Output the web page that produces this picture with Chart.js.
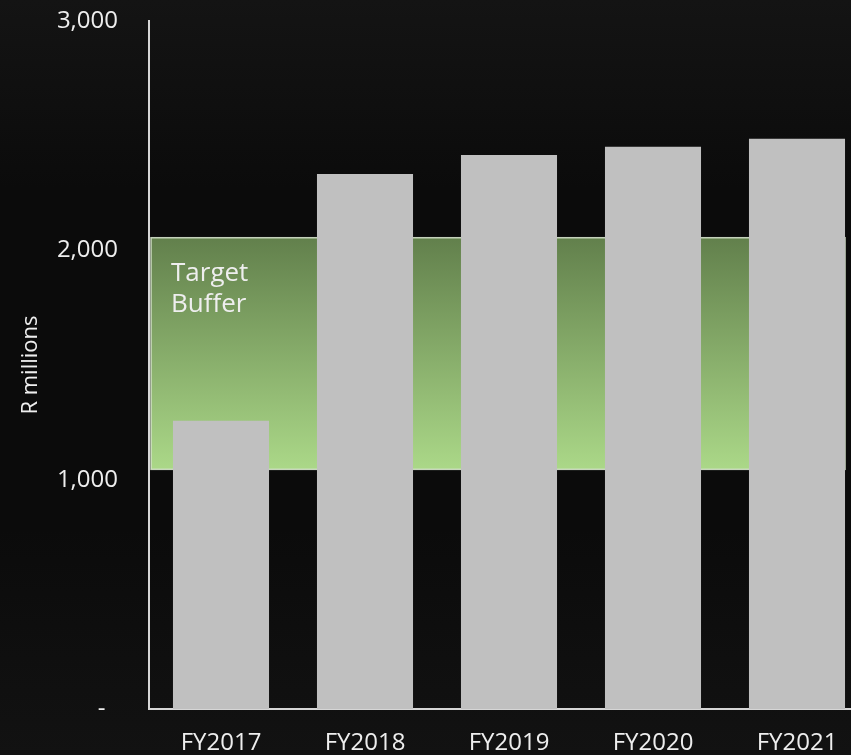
<!DOCTYPE html>
<html>
<head>
<meta charset="utf-8">
<script src="https://cdn.jsdelivr.net/npm/chart.js@4/dist/chart.umd.min.js"></script>
<style>
  html, body {
    margin: 0;
    padding: 0;
    overflow: hidden;
    width: 851px;
    height: 755px;
    background: linear-gradient(to bottom, #141414 0%, #0b0b0b 25%, #0b0b0b 70%, #121212 100%);
  }
  #wrap {
    position: relative;
    width: 880px;
    height: 755px;
  }
</style>
</head>
<body>
<div id="wrap"><canvas id="bufferChart"></canvas></div>
<script>
  const years = ["FY2017", "FY2018", "FY2019", "FY2020", "FY2021"];
  const buffer = [1257, 2333, 2416, 2452, 2487];
  const targetLow = 1045;
  const targetHigh = 2055;
  const yTicks = [0, 1000, 2000, 3000];

  const textColor = "#eeeeee";
  const fontFamily = "'Open Sans', sans-serif";

  // green target band drawn behind the bars
  const targetBand = {
    id: "targetBand",
    beforeDatasetsDraw(chart) {
      const { ctx, chartArea, scales } = chart;
      const top = scales.y.getPixelForValue(targetHigh);
      const bottom = scales.y.getPixelForValue(targetLow);
      const last = chart.getDatasetMeta(0).data[years.length - 1];
      const left = chartArea.left + 2;
      const right = last.x + last.width / 2;

      ctx.save();
      const grad = ctx.createLinearGradient(0, top, 0, bottom);
      grad.addColorStop(0, "#62804c");
      grad.addColorStop(1, "#abd888");
      ctx.fillStyle = grad;
      ctx.fillRect(left, top, right - left, bottom - top);
      ctx.strokeStyle = "rgba(215, 228, 205, 0.9)";
      ctx.lineWidth = 1.5;
      ctx.strokeRect(left, top, right - left, bottom - top);

      ctx.fillStyle = textColor;
      ctx.font = "26px " + fontFamily;
      ctx.textBaseline = "alphabetic";
      ctx.textAlign = "left";
      ctx.fillText("Target", left + 20, top + 43);
      ctx.fillText("Buffer", left + 20, top + 74);
      ctx.restore();
    },
  };

  new Chart(document.getElementById("bufferChart"), {
    type: "bar",
    data: {
      labels: years,
      datasets: [
        {
          label: "Buffer",
          data: buffer,
          backgroundColor: "#c0c0c0",
          borderWidth: 0,
          categoryPercentage: 1,
          barPercentage: 0.667,
        },
      ],
    },
    options: {
      responsive: true,
      maintainAspectRatio: false,
      animation: false,
      layout: {
        padding: { top: 21, right: 11, left: 0, bottom: 0 },
      },
      plugins: {
        legend: { display: false },
        tooltip: { enabled: false },
      },
      scales: {
        x: {
          grid: { display: false, drawTicks: false },
          border: { display: true, color: "#d6d6d6", width: 2 },
          ticks: {
            color: textColor,
            padding: 20,
            font: { family: fontFamily, size: 24 },
          },
          afterFit(scale) {
            scale.height = 46;
            scale.paddingLeft = 0;
            scale.paddingRight = 0;
          },
        },
        y: {
          min: 0,
          max: 3000,
          afterBuildTicks(scale) {
            scale.ticks = yTicks.map((v) => ({ value: v }));
          },
          grid: { display: false, drawTicks: false },
          border: { display: true, color: "#d6d6d6", width: 2 },
          ticks: {
            color: textColor,
            padding: 31,
            font: { family: fontFamily, size: 24 },
            callback: function (value) {
              // accounting style: zero shows as a dash
              return value === 0 ? "-  " : value.toLocaleString("en-US");
            },
          },
          title: {
            display: true,
            text: "R millions",
            color: textColor,
            padding: { top: 18, bottom: 0 },
            font: { family: fontFamily, size: 22 },
          },
          afterFit(scale) {
            scale.width = 149;
            scale.paddingTop = 0;
            scale.paddingBottom = 0;
          },
        },
      },
    },
    plugins: [targetBand],
  });
</script>
</body>
</html>
